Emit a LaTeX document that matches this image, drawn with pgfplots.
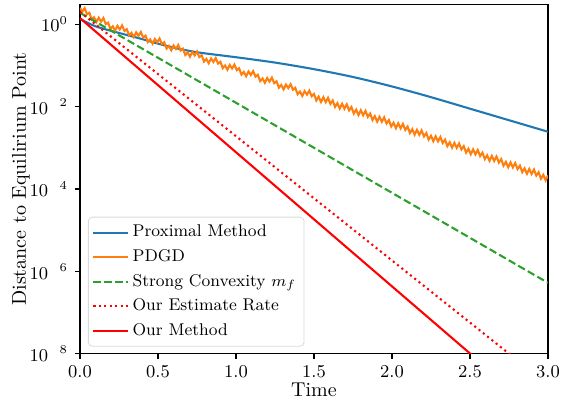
\documentclass[border=0pt]{standalone}
\usepackage{pgfplots}
\usepackage{pgfplotstable}
\pgfplotsset{compat=1.18}
\definecolor{tabblue}{HTML}{1F77B4}
\definecolor{taborange}{HTML}{FF7F0E}
\definecolor{tabgreen}{HTML}{2CA02C}

% PDGD, distance given as log10 value
\pgfplotstableread{
t ly
0.000 0.400
0.015 0.305
0.030 0.390
0.045 0.245
0.060 0.280
0.075 0.115
0.090 0.170
0.105 0.055
0.120 0.160
0.135 0.065
0.150 0.150
0.165 0.005
0.180 0.040
0.195 -0.114
0.210 -0.049
0.225 -0.154
0.240 -0.039
0.255 -0.124
0.270 -0.028
0.285 -0.163
0.300 -0.118
0.315 -0.273
0.330 -0.208
0.345 -0.312
0.360 -0.197
0.375 -0.282
0.390 -0.187
0.405 -0.322
0.420 -0.276
0.435 -0.431
0.450 -0.366
0.465 -0.471
0.480 -0.356
0.495 -0.440
0.510 -0.345
0.525 -0.480
0.540 -0.435
0.555 -0.590
0.570 -0.524
0.585 -0.629
0.600 -0.514
0.615 -0.599
0.630 -0.504
0.645 -0.638
0.660 -0.593
0.675 -0.748
0.690 -0.683
0.705 -0.788
0.720 -0.672
0.735 -0.757
0.750 -0.662
0.765 -0.797
0.780 -0.752
0.795 -0.906
0.810 -0.841
0.825 -0.946
0.840 -0.831
0.855 -0.916
0.870 -0.820
0.885 -0.955
0.900 -0.910
0.915 -1.065
0.930 -1.000
0.945 -1.104
0.960 -0.989
0.975 -1.074
0.990 -0.979
1.005 -1.114
1.020 -1.068
1.035 -1.223
1.050 -1.158
1.065 -1.263
1.080 -1.148
1.095 -1.232
1.110 -1.137
1.125 -1.272
1.140 -1.227
1.155 -1.382
1.170 -1.316
1.185 -1.421
1.200 -1.306
1.215 -1.391
1.230 -1.296
1.245 -1.430
1.260 -1.385
1.275 -1.540
1.290 -1.475
1.305 -1.580
1.320 -1.464
1.335 -1.549
1.350 -1.454
1.365 -1.589
1.380 -1.544
1.395 -1.698
1.410 -1.633
1.425 -1.738
1.440 -1.623
1.455 -1.708
1.470 -1.612
1.485 -1.747
1.500 -1.692
1.515 -1.850
1.530 -1.757
1.545 -1.889
1.560 -1.771
1.575 -1.893
1.590 -1.786
1.605 -1.933
1.620 -1.850
1.635 -2.008
1.650 -1.915
1.665 -2.048
1.680 -1.930
1.695 -2.051
1.710 -1.944
1.725 -2.091
1.740 -2.009
1.755 -2.167
1.770 -2.073
1.785 -2.206
1.800 -2.088
1.815 -2.210
1.830 -2.103
1.845 -2.249
1.860 -2.167
1.875 -2.325
1.890 -2.232
1.905 -2.365
1.920 -2.246
1.935 -2.368
1.950 -2.261
1.965 -2.408
1.980 -2.326
1.995 -2.483
2.010 -2.390
2.025 -2.523
2.040 -2.405
2.055 -2.527
2.070 -2.419
2.085 -2.566
2.100 -2.484
2.115 -2.642
2.130 -2.549
2.145 -2.681
2.160 -2.563
2.175 -2.685
2.190 -2.578
2.205 -2.725
2.220 -2.642
2.235 -2.800
2.250 -2.707
2.265 -2.840
2.280 -2.722
2.295 -2.843
2.310 -2.736
2.325 -2.883
2.340 -2.801
2.355 -2.959
2.370 -2.865
2.385 -2.998
2.400 -2.880
2.415 -3.002
2.430 -2.895
2.445 -3.041
2.460 -2.959
2.475 -3.117
2.490 -3.024
2.505 -3.157
2.520 -3.038
2.535 -3.160
2.550 -3.053
2.565 -3.200
2.580 -3.118
2.595 -3.275
2.610 -3.182
2.625 -3.315
2.640 -3.197
2.655 -3.319
2.670 -3.211
2.685 -3.358
2.700 -3.276
2.715 -3.434
2.730 -3.341
2.745 -3.473
2.760 -3.355
2.775 -3.477
2.790 -3.370
2.805 -3.517
2.820 -3.434
2.835 -3.592
2.850 -3.499
2.865 -3.632
2.880 -3.514
2.895 -3.635
2.910 -3.528
2.925 -3.675
2.940 -3.593
2.955 -3.751
2.970 -3.657
2.985 -3.790
3.000 -3.672
}\pdgd

\begin{document}
\begin{tikzpicture}
\begin{axis}[
  scale only axis,
  width=234pt, height=174.5pt,
  xmin=0, xmax=3, ymin=-8, ymax=0.476,
  xtick={0,0.5,...,3},
  xticklabel style={/pgf/number format/fixed, /pgf/number format/fixed zerofill, /pgf/number format/precision=1},
  ytick={0,-2,-4,-6,-8},
  yticklabels={$10^{0}$,$10^{\hphantom{-}2}$,$10^{\hphantom{-}4}$,$10^{\hphantom{-}6}$,$10^{\hphantom{-}8}$},
  tick align=outside, tick pos=left,
  major tick length=2.5pt,
  tick label style={font=\fontsize{9}{11}\selectfont},
  axis line style={line width=0.55pt},
  every tick/.style={black, line width=0.55pt},
  xlabel={Time}, ylabel={Distance to Equilirium Point},
  label style={font=\fontsize{10}{12}\selectfont},
  xlabel style={yshift=4.3pt},
  ylabel style={yshift=-7pt},
  legend cell align=left,
  legend style={at={(0,0)}, anchor=south west, xshift=4pt, yshift=3.5pt,
    draw=black!15, rounded corners=2pt, font=\fontsize{8.5}{10}\selectfont,
    inner sep=2pt, row sep=0.8pt},
]
\addplot[tabblue, line width=1.04pt, smooth] coordinates {
  (0,0.13)(0.1,-0.05)(0.25,-0.21)(0.38,-0.34)(0.5,-0.47)(0.64,-0.6)
  (0.77,-0.69)(1.0,-0.80)(1.25,-0.93)(1.5,-1.09)(1.75,-1.28)(2.0,-1.51)
  (2.25,-1.77)(2.5,-2.05)(2.75,-2.33)(3.0,-2.61)
};
\addlegendentry{Proximal Method}
\addplot[taborange, line width=1.04pt] table[x=t, y=ly] {\pdgd};
\addlegendentry{PDGD}
\addplot[tabgreen, line width=1.04pt, dash pattern=on 3.8pt off 1.7pt] coordinates {
  (0,0.28)(3.0,-6.28)
};
\addlegendentry{Strong Convexity $m_f$}
\addplot[red, line width=1.04pt, dash pattern=on 1.04pt off 1.7pt] coordinates {
  (0,0.30)(2.8,-8.15)
};
\addlegendentry{Our Estimate Rate}
\addplot[red, line width=1.04pt] coordinates {
  (0,0.15)(2.6,-8.32)
};
\addlegendentry{Our Method}
\end{axis}
\pgfresetboundingbox
\path ([xshift=-40pt,yshift=-25pt]current axis.south west)
  rectangle ([xshift=8pt,yshift=2.35pt]current axis.north east);
\end{tikzpicture}
\end{document}
